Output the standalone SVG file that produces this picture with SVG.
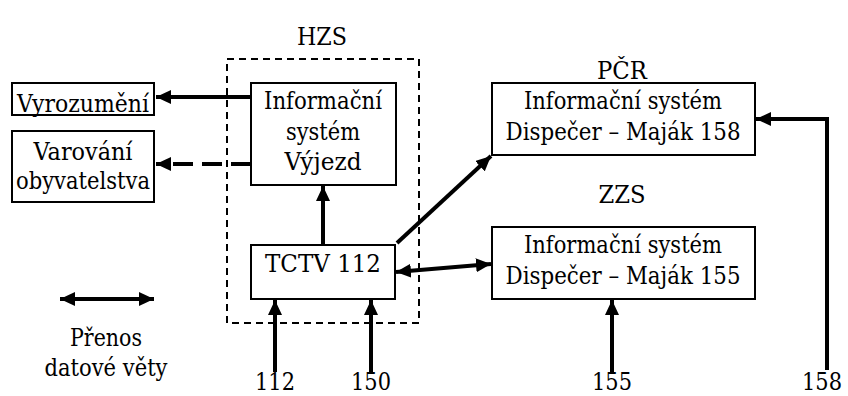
<svg xmlns="http://www.w3.org/2000/svg" width="848" height="396" viewBox="0 0 848 396">
<style>
  .box{fill:#fff;stroke:#000;stroke-width:2}
  text{font-family:'DejaVu Serif',serif;font-size:24px;fill:#000;text-anchor:middle}
  .c{fill:none;stroke:#000;stroke-width:4}
</style>
<defs>
  <marker id="ah" markerUnits="userSpaceOnUse" markerWidth="16" markerHeight="14" refX="15" refY="7" orient="auto-start-reverse" viewBox="0 0 16 14">
    <path d="M0,0 L15,7 L0,14 z" fill="#000"/>
  </marker>
</defs>
<rect x="227" y="59" width="192" height="264" fill="none" stroke="#000" stroke-width="2" stroke-dasharray="7,5"/>
<text x="322" y="45" textLength="50" lengthAdjust="spacingAndGlyphs">HZS</text>
<text x="622" y="79" textLength="50" lengthAdjust="spacingAndGlyphs">PČR</text>
<text x="622" y="203" textLength="47" lengthAdjust="spacingAndGlyphs">ZZS</text>
<g id="connectors">
  <line class="c" x1="251" y1="97" x2="156" y2="97" marker-end="url(#ah)"/>
  <line class="c" x1="251" y1="164" x2="156" y2="164" stroke-dasharray="20,9" marker-end="url(#ah)"/>
  <line class="c" x1="323" y1="245" x2="323" y2="186" marker-end="url(#ah)"/>
  <line class="c" x1="275" y1="372" x2="275" y2="300" marker-end="url(#ah)"/>
  <line class="c" x1="371" y1="372" x2="371" y2="300" marker-end="url(#ah)"/>
  <line class="c" x1="397" y1="243" x2="491" y2="156" marker-end="url(#ah)"/>
  <line class="c" x1="396" y1="272" x2="491" y2="264" marker-start="url(#ah)" marker-end="url(#ah)"/>
  <line class="c" x1="612" y1="372" x2="612" y2="300" marker-end="url(#ah)"/>
  <polyline class="c" points="827,370 827,119 756,119" marker-end="url(#ah)"/>
  <line class="c" x1="60" y1="299" x2="154" y2="299" marker-start="url(#ah)" marker-end="url(#ah)"/>
</g>
<g id="vyrozumeni">
  <rect class="box" x="12" y="83" width="142" height="32"/>
  <text x="83" y="112" textLength="132" lengthAdjust="spacingAndGlyphs">Vyrozumění</text>
</g>
<g id="varovani">
  <rect class="box" x="12" y="131" width="142" height="71"/>
  <text x="83" y="160" textLength="99" lengthAdjust="spacingAndGlyphs">Varování</text>
  <text x="83" y="189" textLength="134" lengthAdjust="spacingAndGlyphs">obyvatelstva</text>
</g>
<g id="vyjezd">
  <rect class="box" x="251" y="83" width="145" height="102"/>
  <text x="323" y="109" textLength="118" lengthAdjust="spacingAndGlyphs">Informační</text>
  <text x="323" y="140" textLength="74" lengthAdjust="spacingAndGlyphs">systém</text>
  <text x="323" y="170" textLength="77" lengthAdjust="spacingAndGlyphs">Výjezd</text>
</g>
<g id="tctv">
  <rect class="box" x="251" y="245" width="144" height="54"/>
  <text x="323" y="272" textLength="116" lengthAdjust="spacingAndGlyphs">TCTV 112</text>
</g>
<g id="pcr">
  <rect class="box" x="492" y="83" width="263" height="72"/>
  <text x="623" y="109" textLength="198" lengthAdjust="spacingAndGlyphs">Informační systém</text>
  <text x="623" y="140" textLength="235" lengthAdjust="spacingAndGlyphs">Dispečer – Maják 158</text>
</g>
<g id="zzs">
  <rect class="box" x="492" y="227" width="263" height="72"/>
  <text x="623" y="253" textLength="198" lengthAdjust="spacingAndGlyphs">Informační systém</text>
  <text x="623" y="284" textLength="235" lengthAdjust="spacingAndGlyphs">Dispečer – Maják 155</text>
</g>
<g id="legend">
  <text x="106" y="346" textLength="72" lengthAdjust="spacingAndGlyphs">Přenos</text>
  <text x="106" y="376" textLength="123" lengthAdjust="spacingAndGlyphs">datové věty</text>
</g>
<text x="275" y="390" textLength="40" lengthAdjust="spacingAndGlyphs">112</text>
<text x="371" y="390" textLength="40" lengthAdjust="spacingAndGlyphs">150</text>
<text x="612" y="390" textLength="40" lengthAdjust="spacingAndGlyphs">155</text>
<text x="822" y="390" textLength="40" lengthAdjust="spacingAndGlyphs">158</text>
</svg>
